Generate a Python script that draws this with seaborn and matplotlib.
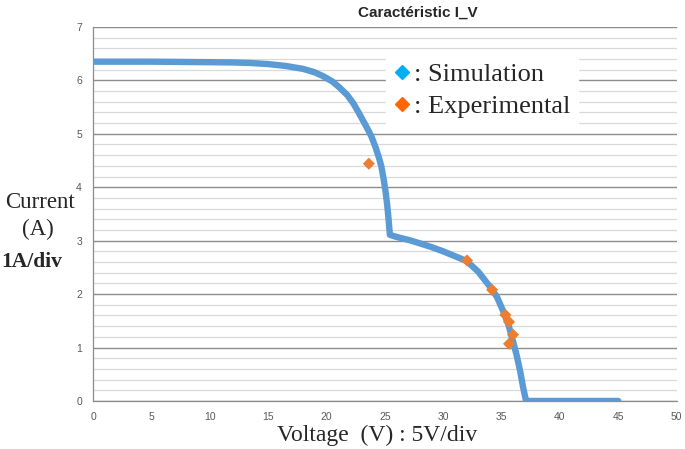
import numpy as np
import pandas as pd
import seaborn as sns
import matplotlib.pyplot as plt
from matplotlib.lines import Line2D

# simulation curve
sim_v = [0, 5, 10, 12, 13.5, 15, 16.5, 18, 19, 19.7, 20.5, 21.15, 21.8, 22.3,
         22.7, 23.1, 23.5, 23.85, 24.2, 24.5, 24.7, 24.9, 25.08, 25.2, 25.3,
         25.43, 26, 27.1, 28, 29, 30, 31, 32, 33, 34, 34.6, 35.1, 35.6, 36.0,
         36.3, 36.6, 36.85, 37.1, 40, 45]
sim_i = [6.35, 6.35, 6.34, 6.335, 6.325, 6.305, 6.27, 6.215, 6.15, 6.08,
         5.98, 5.86, 5.72, 5.57, 5.42, 5.26, 5.10, 4.95, 4.75, 4.55, 4.39,
         4.15, 3.89, 3.67, 3.45, 3.11, 3.07, 3.01, 2.95, 2.88, 2.80, 2.71,
         2.62, 2.42, 2.14, 1.95, 1.70, 1.42, 1.10, 0.85, 0.55, 0.25, 0.0,
         0.0, 0.0]

# experimental points
exp_v = [23.63, 32.04, 34.19, 35.33, 35.64, 35.98, 35.64]
exp_i = [4.44, 2.63, 2.08, 1.61, 1.48, 1.24, 1.07]

x_ticks = list(range(0, 51, 5))
y_ticks = list(range(0, 8))

sim = pd.DataFrame({"V": sim_v, "I": sim_i})
exp = pd.DataFrame({"V": exp_v, "I": exp_i})

sns.set_style("white")
plt.rcParams["font.family"] = ["Liberation Sans", "DejaVu Sans"]

fig = plt.figure(figsize=(6.85, 4.49), dpi=100)
ax = fig.add_axes([0.1358, 0.107, 0.852, 0.833])

# grid lines: major every 1 A, minor every 0.2 A
for y in np.arange(0, 7.01, 0.2):
    major = abs(y - round(y)) < 1e-6
    ax.axhline(y, color="#8c8c8c" if major else "#d9d9d9",
               lw=1.0 if major else 0.9, zorder=0)

sns.lineplot(data=sim, x="V", y="I", sort=False, ax=ax, color="#5b9bd5",
             lw=4.6, solid_capstyle="round", solid_joinstyle="round", zorder=3)
sns.scatterplot(data=exp, x="V", y="I", ax=ax, marker="D", s=38,
                color="#ed7d31", edgecolor="none", zorder=4)

ax.set_xlim(0, 50)
ax.set_ylim(0, 7)
ax.set_xticks(x_ticks)
ax.set_yticks(y_ticks)
ax.tick_params(axis="both", labelsize=7.5, colors="#595959", length=4,
               width=0.8, direction="out", pad=4)
ax.tick_params(axis="x", color="#8c8c8c")
ax.tick_params(axis="y", color="#8c8c8c")
for s in ["top", "right"]:
    ax.spines[s].set_visible(False)
for s in ["left", "bottom"]:
    ax.spines[s].set_color("#8c8c8c")
    ax.spines[s].set_linewidth(0.9)
ax.set_xlabel("")
ax.set_ylabel("")

# legend
handles = [Line2D([], [], ls="none", marker="D", ms=7, color="#00b0f0"),
           Line2D([], [], ls="none", marker="D", ms=7, color="#ff6600")]
leg = ax.legend(handles, [": Simulation", ": Experimental"],
                loc="upper left", bbox_to_anchor=(0.48, 0.96),
                frameon=True, fancybox=False, framealpha=1,
                edgecolor="white", handlelength=0.6, handletextpad=0.15,
                borderpad=0.3, labelspacing=0.3,
                prop={"family": "Liberation Serif", "size": 19})
leg.set_zorder(5)

fig.text(0.61, 0.972, "Caractéristic I_V", ha="center", va="center",
         fontsize=11, fontweight="bold", color="#262626")

fig.text(0.058, 0.548, "Current", ha="center", va="center",
         family="Liberation Serif", fontsize=16.5)
fig.text(0.055, 0.488, "(A)", ha="center", va="center",
         family="Liberation Serif", fontsize=16.5)
fig.text(0.046, 0.416, "1A/div", ha="center", va="center",
         family="Liberation Serif", fontsize=15.5, fontweight="bold")
fig.text(0.55, 0.03, "Voltage  (V) : 5V/div", ha="center", va="center",
         family="Liberation Serif", fontsize=17)

fig.savefig("out.png", dpi=100)
